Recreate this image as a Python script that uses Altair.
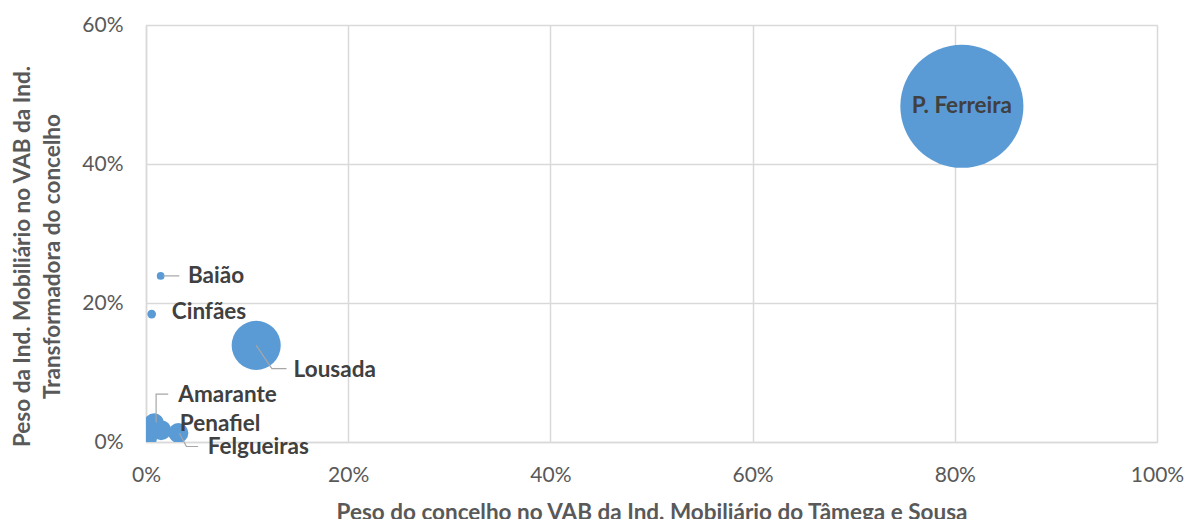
import altair as alt
import pandas as pd

# Bubble data: share of each municipality in the region's furniture-industry GVA (x),
# share of furniture in the municipality's manufacturing GVA (y), bubble weight.
municipios = ["P. Ferreira", "Lousada", "Amarante", "Penafiel", "Felgueiras", "", "Cinfães", "Baião"]
peso_regiao = [80.7, 10.9, 0.8, 1.5, 3.2, 0.1, 0.56, 1.45]
peso_concelho = [48.3, 13.9, 2.7, 1.7, 1.3, 0.6, 18.4, 23.9]
vab = [100, 15.9, 2.65, 2.65, 2.65, 2.65, 0.5, 0.39]

# Data-label anchors (axis units)
rotulos = ["P. Ferreira", "Lousada", "Baião", "Cinfães", "Amarante", "Penafiel", "Felgueiras"]
rotulo_x = [80.7, 14.6, 4.15, 2.55, 3.2, 3.35, 6.1]
rotulo_y = [48.3, 10.3, 23.9, 18.75, 6.8, 2.6, -0.75]

# Leader lines joining labels to their bubbles (axis units)
guia_nome = ["Baião", "Baião",
             "Lousada", "Lousada", "Lousada",
             "Amarante", "Amarante", "Amarante",
             "Felgueiras", "Felgueiras", "Felgueiras"]
guia_ordem = [0, 1, 0, 1, 2, 0, 1, 2, 0, 1, 2]
guia_x = [1.7, 3.3, 10.9, 12.45, 13.9, 1.0, 1.0, 2.2, 3.3, 4.0, 5.15]
guia_y = [23.9, 23.9, 13.9, 10.55, 10.55, 2.8, 6.9, 6.9, 1.25, -0.65, -0.65]

bolhas = pd.DataFrame({"municipio": municipios, "x": peso_regiao,
                       "y": peso_concelho, "vab": vab})
etiquetas = pd.DataFrame({"municipio": rotulos, "x": rotulo_x, "y": rotulo_y})
guias = pd.DataFrame({"municipio": guia_nome, "ordem": guia_ordem,
                      "x": guia_x, "y": guia_y})

FONT = "Lato"
AZUL = "#5b9bd5"

x_scale = alt.Scale(domain=[0, 100], nice=False)
y_scale = alt.Scale(domain=[0, 60], nice=False)

x_axis = alt.Axis(
    values=[0, 20, 40, 60, 80, 100], labelExpr="datum.value + '%'",
    title="Peso do concelho no VAB da Ind. Mobiliário do Tâmega e Sousa",
    grid=True, gridColor="#d9d9d9", gridWidth=1.5,
    domainColor="#d9d9d9", domainWidth=1.5, ticks=False,
    labelFlush=False, labelOverlap=False,
    labelPadding=22, labelFontSize=21, labelColor="#595959", labelFont=FONT,
    titleFontSize=22.5, titleFont=FONT, titleFontWeight="bold", titleColor="#595959",
    titleY=70, titleBaseline="middle",
)
y_axis = alt.Axis(
    values=[0, 20, 40, 60], labelExpr="datum.value + '%'",
    title=["Peso da Ind. Mobiliário no VAB da Ind.", "Transformadora do concelho"],
    grid=True, gridColor="#d9d9d9", gridWidth=1.5,
    domainColor="#d9d9d9", domainWidth=1.5, ticks=False,
    labelFlush=False, labelOverlap=False,
    labelPadding=23, labelFontSize=21, labelColor="#595959", labelFont=FONT,
    titleFontSize=22.5, titleFont=FONT, titleFontWeight="bold", titleColor="#595959",
    titleAngle=270, titleX=-124, titleY=231, titleAlign="center",
    titleBaseline="middle", titleLineHeight=30,
)

pontos = alt.Chart(bolhas).mark_circle(color=AZUL, opacity=1, clip=True).encode(
    x=alt.X("x:Q", scale=x_scale, axis=x_axis),
    y=alt.Y("y:Q", scale=y_scale, axis=y_axis),
    size=alt.Size("vab:Q", scale=alt.Scale(domain=[0, 100], range=[0, 15150]),
                  legend=None),
)

linhas = alt.Chart(guias).mark_line(color="#a6a6a6", strokeWidth=1.2).encode(
    x=alt.X("x:Q", scale=x_scale),
    y=alt.Y("y:Q", scale=y_scale),
    detail="municipio:N",
    order="ordem:Q",
)

texto_base = alt.Chart(etiquetas)
texto_centro = texto_base.transform_filter(
    alt.datum.municipio == "P. Ferreira"
).mark_text(font=FONT, fontSize=22.5, fontWeight="bold", color="#404040",
            align="center", baseline="middle").encode(
    x=alt.X("x:Q", scale=x_scale), y=alt.Y("y:Q", scale=y_scale), text="municipio:N")
texto_esq = texto_base.transform_filter(
    alt.datum.municipio != "P. Ferreira"
).mark_text(font=FONT, fontSize=22.5, fontWeight="bold", color="#404040",
            align="left", baseline="middle").encode(
    x=alt.X("x:Q", scale=x_scale), y=alt.Y("y:Q", scale=y_scale), text="municipio:N")

chart = alt.layer(pontos, linhas, texto_centro, texto_esq).properties(
    width=1011, height=417,
    autosize=alt.AutoSizeParams(type="none"),
    padding={"left": 146, "top": 25, "right": 28, "bottom": 77},
).configure_view(stroke=None).configure(background="white")

chart.save("out.html", embed_options={"renderer": "svg", "actions": False})
